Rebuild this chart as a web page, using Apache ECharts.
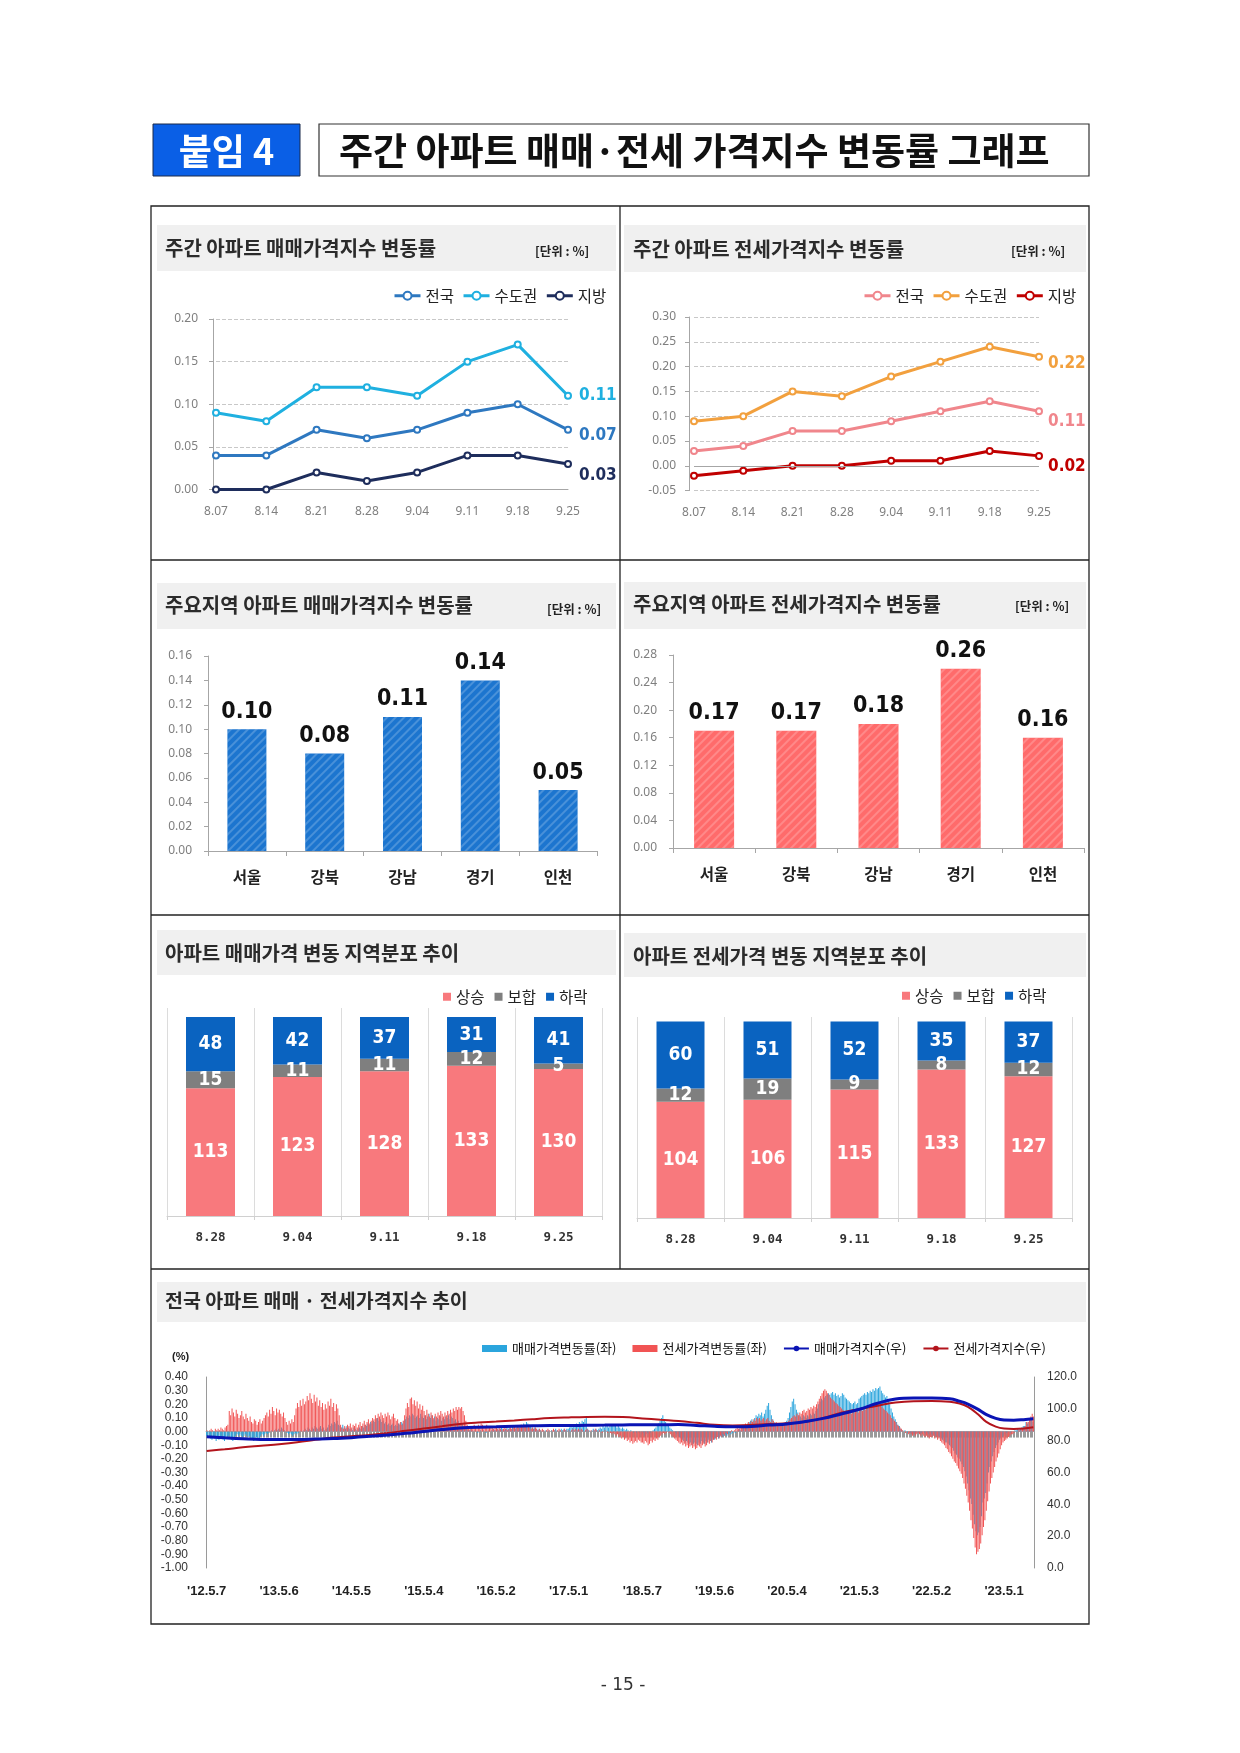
<!DOCTYPE html>
<html><head><meta charset="utf-8">
<script src="https://cdn.jsdelivr.net/npm/echarts@6/dist/echarts.min.js"></script>
<style>html,body{margin:0;padding:0;background:#fff}#c{width:1240px;height:1753px}</style>
</head><body><div id="c"></div><script>
// ---------------- DATA ----------------
const weeks8 = ['8.07','8.14','8.21','8.28','9.04','9.11','9.18','9.25'];
const saleNation  = [0.04,0.04,0.07,0.06,0.07,0.09,0.10,0.07];
const saleCapital = [0.09,0.08,0.12,0.12,0.11,0.15,0.17,0.11];
const saleLocal   = [0.00,0.00,0.02,0.01,0.02,0.04,0.04,0.03];
const jeonseNation  = [0.03,0.04,0.07,0.07,0.09,0.11,0.13,0.11];
const jeonseCapital = [0.09,0.10,0.15,0.14,0.18,0.21,0.24,0.22];
const jeonseLocal   = [-0.02,-0.01,0.00,0.00,0.01,0.01,0.03,0.02];

const regions = ['서울','강북','강남','경기','인천'];
const saleRegion   = [0.10,0.08,0.11,0.14,0.05];
const jeonseRegion = [0.17,0.17,0.18,0.26,0.16];

const distWeeks = ['8.28','9.04','9.11','9.18','9.25'];
const saleUp   = [113,123,128,133,130];
const saleFlat = [15,11,11,12,5];
const saleDown = [48,42,37,31,41];
const jeonseUp   = [104,106,115,133,127];
const jeonseFlat = [12,19,9,8,12];
const jeonseDown = [60,51,52,35,37];

// weekly national rates, '12.5.7 ~ '23.9.25
const saleRateWeekly = [
 // '12.5 - '13.4
 -0.03,-0.04,-0.03,-0.05,-0.06,-0.04,-0.05,-0.07,-0.05,-0.06,-0.04,-0.05,-0.06,-0.07,-0.05,-0.04,
 -0.03,-0.04,-0.06,-0.07,-0.05,-0.03,-0.02,-0.03,-0.02,-0.03,-0.04,-0.03,-0.02,-0.03,-0.04,-0.03,
 -0.05,-0.06,-0.07,-0.05,-0.04,-0.06,-0.05,-0.03,-0.02,-0.03,-0.02,-0.01,-0.02,-0.01,0.00,0.01,0.00,0.01,0.02,0.01,
 // '13.5 - '14.4
 0.02,0.01,0.03,0.02,0.01,0.00,-0.01,-0.02,-0.01,-0.02,-0.03,-0.02,
 -0.01,-0.02,-0.01,0.00,0.01,0.00,0.01,0.02,0.01,0.03,0.02,0.01,0.03,0.02,0.04,0.03,
 0.02,0.03,0.04,0.02,0.03,0.01,0.02,0.03,0.05,0.04,0.06,0.05,0.07,0.06,0.08,0.05,
 0.04,0.03,0.05,0.03,0.02,0.04,0.03,0.02,
 // '14.5 - '15.4
 0.02,0.01,0.03,0.02,0.01,0.02,0.03,0.02,0.04,0.03,0.05,0.04,0.06,0.05,0.07,0.06,
 0.08,0.07,0.09,0.10,0.08,0.09,0.07,0.08,0.06,0.07,0.05,0.06,0.04,0.05,0.06,0.04,
 0.05,0.04,0.06,0.05,0.07,0.06,0.08,0.09,0.11,0.10,0.12,0.11,0.13,0.12,0.10,0.11,0.12,0.10,0.13,0.11,
 // '15.5 - '16.4
 0.10,0.12,0.09,0.11,0.13,0.10,0.12,0.09,0.11,0.08,0.10,0.09,0.11,0.08,0.10,0.09,
 0.11,0.10,0.12,0.09,0.11,0.10,0.08,0.09,0.07,0.08,0.06,0.05,0.06,0.04,0.03,0.02,
 0.02,0.01,0.02,0.01,0.00,0.01,0.00,-0.01,0.00,0.01,0.00,0.01,0.00,-0.01,0.00,0.01,0.00,0.01,0.02,0.01,
 // '16.5 - '17.4
 0.01,0.02,0.01,0.02,0.03,0.02,0.01,0.02,0.03,0.02,0.03,0.02,0.04,0.03,0.02,0.03,
 0.04,0.03,0.05,0.04,0.06,0.05,0.07,0.06,0.05,0.04,0.03,0.02,0.03,0.02,0.01,0.02,
 0.01,0.00,0.01,0.00,0.01,0.00,0.01,0.00,0.01,0.00,0.01,0.02,0.01,0.00,0.01,0.02,0.01,0.02,0.01,0.02,
 // '17.5 - '18.4
 0.02,0.03,0.04,0.03,0.05,0.04,0.06,0.05,0.07,0.06,0.08,0.07,0.09,0.10,0.02,0.01,
 0.00,0.01,0.02,0.01,0.02,0.01,0.02,0.03,0.02,0.04,0.03,0.05,0.04,0.03,0.04,0.05,
 0.04,0.05,0.04,0.03,0.04,0.03,0.02,0.03,0.02,0.01,0.02,0.01,0.00,0.01,0.00,-0.01,0.00,-0.01,0.00,-0.01,0.00,
 // '18.5 - '19.4
 -0.02,-0.01,-0.03,-0.02,-0.01,-0.02,-0.01,0.00,0.01,0.02,0.03,0.04,0.06,0.08,0.10,0.12,
 0.09,0.07,0.05,0.04,0.03,0.02,0.01,0.00,-0.01,-0.02,-0.03,-0.04,-0.05,-0.06,-0.07,-0.08,
 -0.07,-0.08,-0.09,-0.08,-0.10,-0.09,-0.08,-0.09,-0.10,-0.08,-0.09,-0.07,-0.08,-0.09,-0.07,-0.08,-0.06,-0.07,-0.08,-0.06,
 // '19.5 - '20.4
 -0.06,-0.05,-0.04,-0.05,-0.04,-0.03,-0.04,-0.03,-0.02,-0.03,-0.02,-0.01,-0.02,-0.01,0.00,-0.01,
 0.00,0.01,0.02,0.01,0.03,0.04,0.05,0.04,0.06,0.07,0.08,0.09,0.08,0.10,0.12,0.11,
 0.13,0.12,0.14,0.11,0.13,0.16,0.19,0.21,0.16,0.12,0.09,0.07,0.06,0.05,0.04,0.05,0.04,0.06,0.05,0.07,
 // '20.5 - '21.4
 0.08,0.10,0.14,0.18,0.22,0.24,0.20,0.16,0.14,0.12,0.11,0.10,0.12,0.11,0.10,0.12,
 0.11,0.13,0.12,0.14,0.13,0.15,0.17,0.20,0.22,0.24,0.23,0.25,0.26,0.27,0.28,0.27,
 0.28,0.29,0.27,0.28,0.26,0.27,0.25,0.26,0.28,0.27,0.25,0.24,0.23,0.22,0.21,0.20,0.21,0.22,0.20,0.21,
 // '21.5 - '22.4
 0.24,0.25,0.26,0.27,0.28,0.27,0.29,0.28,0.30,0.29,0.31,0.30,0.32,0.31,0.32,0.33,
 0.30,0.28,0.27,0.25,0.26,0.22,0.20,0.17,0.14,0.11,0.09,0.07,0.05,0.04,0.02,0.01,
 0.00,0.01,0.00,-0.01,0.00,-0.01,-0.02,-0.01,-0.02,-0.01,0.00,-0.01,-0.02,-0.01,0.00,-0.01,-0.02,-0.01,-0.02,-0.03,
 // '22.5 - '23.4
 -0.02,-0.03,-0.02,-0.03,-0.04,-0.03,-0.04,-0.05,-0.06,-0.07,-0.08,-0.08,-0.09,-0.10,-0.11,-0.12,
 -0.14,-0.16,-0.17,-0.19,-0.20,-0.22,-0.24,-0.26,-0.29,-0.33,-0.38,-0.43,-0.49,-0.53,-0.61,-0.68,
 -0.73,-0.76,-0.74,-0.70,-0.62,-0.52,-0.49,-0.45,-0.38,-0.30,-0.26,-0.22,-0.18,-0.15,-0.12,-0.10,-0.08,-0.06,-0.05,-0.04,
 // '23.5 - '23.9
 -0.03,-0.02,-0.01,-0.01,0.00,-0.01,0.00,0.00,0.01,0.01,0.02,0.02,0.02,0.03,0.04,0.04,0.07,0.06,0.07,0.09,0.10,0.07
];
const jeonseRateWeekly = [
 0.01,0.00,0.01,0.02,0.01,0.00,0.02,0.01,0.02,0.01,0.03,0.02,0.01,0.03,0.04,0.05,
 0.15,0.12,0.17,0.14,0.11,0.16,0.13,0.10,0.12,0.15,0.11,0.09,0.13,0.10,0.08,0.11,
 0.07,0.06,0.09,0.08,0.05,0.07,0.09,0.06,0.08,0.10,0.12,0.14,0.11,0.16,0.13,0.18,0.15,0.12,0.17,0.14,
 0.16,0.13,0.11,0.14,0.10,0.07,0.05,0.08,0.06,0.09,0.07,0.12,
 0.17,0.21,0.18,0.23,0.19,0.24,0.20,0.22,0.26,0.23,0.28,0.24,0.21,0.27,0.22,0.25,
 0.19,0.23,0.18,0.21,0.16,0.20,0.17,0.22,0.19,0.24,0.18,0.21,0.15,0.20,0.17,0.12,
 0.05,0.03,0.02,0.04,0.03,0.05,0.04,0.06,
 0.03,0.05,0.04,0.06,0.03,0.05,0.07,0.04,0.06,0.08,0.05,0.07,0.09,0.06,0.08,0.10,
 0.09,0.12,0.10,0.13,0.11,0.14,0.12,0.10,0.13,0.11,0.14,0.12,0.09,0.11,0.13,0.10,
 0.08,0.09,0.06,0.07,0.05,0.08,0.12,0.17,0.21,0.18,0.24,0.25,0.20,0.23,0.19,0.22,0.17,0.20,0.16,0.19,
 0.15,0.12,0.16,0.13,0.11,0.14,0.12,0.10,0.13,0.11,0.14,0.12,0.15,0.13,0.11,0.14,
 0.12,0.15,0.13,0.16,0.14,0.17,0.15,0.18,0.16,0.18,0.17,0.18,0.15,0.12,0.08,0.05,
 0.03,0.02,0.04,0.03,0.05,0.04,0.03,0.05,0.04,0.06,0.05,0.04,0.03,0.05,0.04,0.03,0.04,0.03,0.02,0.03,
 0.03,0.02,0.03,0.02,0.01,0.02,0.03,0.02,0.01,0.02,0.03,0.02,0.03,0.04,0.03,0.04,
 0.03,0.04,0.05,0.04,0.05,0.04,0.03,0.04,0.03,0.02,0.03,0.02,0.03,0.02,0.01,0.02,
 0.01,0.02,0.01,0.00,0.01,0.02,0.01,0.00,0.01,0.02,0.01,0.00,0.01,0.02,0.01,0.00,0.01,0.02,0.01,0.00,
 0.01,0.00,0.01,0.02,0.01,0.02,0.01,0.02,0.01,0.02,0.01,0.00,0.01,0.02,0.01,0.00,
 0.01,0.00,0.01,0.02,0.01,0.00,0.01,0.00,-0.01,0.00,0.01,0.00,-0.01,0.00,-0.01,-0.02,
 -0.01,-0.02,-0.03,-0.02,-0.04,-0.03,-0.05,-0.04,-0.06,-0.05,-0.07,-0.06,-0.08,-0.07,-0.09,-0.08,-0.07,-0.08,-0.06,-0.07,-0.08,
 -0.08,-0.09,-0.07,-0.08,-0.10,-0.09,-0.07,-0.08,-0.06,-0.07,-0.05,-0.06,-0.04,-0.03,-0.02,-0.01,
 -0.02,-0.01,0.00,-0.01,-0.02,-0.03,-0.04,-0.05,-0.06,-0.07,-0.08,-0.09,-0.08,-0.10,-0.09,-0.11,
 -0.10,-0.12,-0.11,-0.10,-0.12,-0.11,-0.13,-0.12,-0.10,-0.11,-0.12,-0.10,-0.09,-0.11,-0.10,-0.08,-0.09,-0.07,-0.08,-0.06,
 -0.05,-0.06,-0.04,-0.05,-0.03,-0.04,-0.02,-0.03,-0.01,-0.02,0.00,-0.01,0.01,0.00,0.01,0.02,
 0.03,0.02,0.04,0.03,0.05,0.04,0.06,0.05,0.07,0.06,0.08,0.07,0.09,0.08,0.10,0.09,
 0.10,0.08,0.09,0.10,0.08,0.09,0.10,0.08,0.07,0.09,0.08,0.06,0.07,0.05,0.06,0.04,0.05,0.06,0.05,0.07,
 0.07,0.08,0.09,0.10,0.11,0.12,0.11,0.13,0.12,0.14,0.13,0.15,0.16,0.14,0.15,0.17,
 0.16,0.18,0.17,0.19,0.18,0.20,0.22,0.24,0.26,0.28,0.30,0.31,0.30,0.28,0.27,0.25,
 0.24,0.23,0.22,0.21,0.20,0.19,0.18,0.17,0.16,0.15,0.14,0.13,0.15,0.14,0.13,0.15,0.14,0.16,0.15,0.14,
 0.16,0.17,0.15,0.18,0.16,0.19,0.17,0.18,0.20,0.19,0.18,0.20,0.19,0.21,0.20,0.19,
 0.18,0.17,0.16,0.15,0.14,0.13,0.12,0.10,0.09,0.08,0.07,0.05,0.04,0.03,0.02,0.01,
 0.00,-0.01,0.00,-0.02,-0.01,-0.02,-0.03,-0.02,-0.03,-0.02,-0.01,-0.02,-0.03,-0.02,-0.03,-0.04,-0.03,-0.04,-0.05,-0.04,
 -0.04,-0.03,-0.05,-0.04,-0.06,-0.05,-0.07,-0.08,-0.09,-0.10,-0.12,-0.13,-0.15,-0.16,-0.18,-0.20,
 -0.22,-0.23,-0.25,-0.27,-0.29,-0.31,-0.34,-0.38,-0.42,-0.47,-0.52,-0.58,-0.65,-0.71,-0.78,-0.85,
 -0.90,-0.88,-0.86,-0.82,-0.76,-0.70,-0.65,-0.58,-0.51,-0.44,-0.38,-0.34,-0.30,-0.26,-0.22,-0.19,-0.16,-0.13,-0.10,-0.08,
 -0.07,-0.06,-0.05,-0.04,-0.03,-0.02,-0.02,-0.01,0.00,0.00,0.01,0.01,0.02,0.02,0.03,0.04,0.07,0.07,0.09,0.11,0.13,0.11
];
// index lines (right axis), read at these week positions
const idxWeeks   = [0,13,26,39,52,65,78,91,104,117,130,143,156,169,182,195,208,221,234,247,260,273,286,299,313,326,339,352,365,378,391,404,417,430,443,456,469,482,495,508,521,534,541,547,554,560,567,573,580,587,594];
const saleIndex  = [82.5,81.8,81.2,80.8,80.8,80.8,81.0,81.3,81.9,82.7,83.6,84.6,85.8,87.0,88.0,88.5,88.7,89.0,89.3,89.5,89.5,89.7,89.8,89.9,90.0,90.0,90.1,89.6,89.0,88.7,88.9,89.8,90.5,92.0,94.0,96.8,99.7,103.5,106.2,106.8,106.8,106.3,104.8,103.0,99.8,96.5,94.0,93.0,92.9,93.2,93.7];
const jeonseIndex= [73.5,74.6,75.8,76.8,77.8,79.0,80.5,82.0,82.8,83.6,84.8,86.2,87.6,89.0,90.5,91.4,92.0,92.7,93.5,94.2,94.6,94.9,95.0,94.8,94.0,93.1,92.3,91.2,90.0,89.6,89.8,90.5,90.9,91.8,94.2,97.6,99.8,102.0,104.0,104.8,104.9,104.4,103.3,101.2,96.8,92.0,88.8,87.6,87.4,87.7,88.5];
const tickWeeks  = [0,52,104,156,208,260,313,365,417,469,521,573];
const tickLabels = ["'12.5.7","'13.5.6","'14.5.5","'15.5.4","'16.5.2","'17.5.1","'18.5.7","'19.5.6","'20.5.4","'21.5.3","'22.5.2","'23.5.1"];

// ---------------- STYLE ----------------
const KR = '"Noto Sans CJK KR", sans-serif';
const NARROW = '"Liberation Sans Narrow","DejaVu Sans",sans-serif';
const NW = 'bold condensed';
const weekIdx = saleRateWeekly.map((_, i) => i);

const G = [];
function rect(x,y,w,h,fill,stroke,lw,z){G.push({type:'rect',silent:true,z:z||0,shape:{x,y,width:w,height:h},style:{fill:fill||'none',stroke:stroke||null,lineWidth:lw||0}});}
function line(x1,y1,x2,y2,stroke,lw){G.push({type:'line',silent:true,z:10,shape:{x1,y1,x2,y2},style:{stroke,lineWidth:lw}});}
function text(t,x,y,size,o){o=o||{};G.push({type:'text',silent:true,z:20,x,y,style:{text:t,fontSize:size,fontWeight:o.w||'normal',fontFamily:o.f||KR,fill:o.c||'#222',textAlign:o.a||'left',textVerticalAlign:'middle'}});}

// header
rect(153,124,147,52,'#0a5fe6','#1b2a4a',1,1);
text('붙임 4',226.5,151,36,{w:'bold',c:'#fff',a:'center'});
rect(319,124,770,52,'#fff','#333',1.2,1);
text('주간 아파트 매매·전세 가격지수 변동률 그래프',339,151,37,{w:'bold',c:'#111'});
// frame
rect(151,206,938,1418,'none','#222',1.3,10);
line(620,206,620,1269,'#222',1.3);
line(151,560,1089,560,'#222',1.3);
line(151,915,1089,915,'#222',1.3);
line(151,1269,1089,1269,'#222',1.3);
// bands
rect(157,225,459,46,'#f0f0f0'); rect(624,225,462,47,'#f0f0f0');
rect(157,583,459,46,'#f0f0f0'); rect(624,582,462,47,'#f0f0f0');
rect(157,930,459,45,'#f0f0f0'); rect(624,933,462,44,'#f0f0f0');
rect(157,1282,929,40,'#f0f0f0');
// panel titles
text('주간 아파트 매매가격지수 변동률',165,248,20,{w:'bold',c:'#2b2b2b'});
text('주간 아파트 전세가격지수 변동률',633,249,20,{w:'bold',c:'#2b2b2b'});
text('주요지역 아파트 매매가격지수 변동률',165,605,20,{w:'bold',c:'#2b2b2b'});
text('주요지역 아파트 전세가격지수 변동률',633,604,20,{w:'bold',c:'#2b2b2b'});
text('아파트 매매가격 변동 지역분포 추이',165,953,20,{w:'bold',c:'#2b2b2b'});
text('아파트 전세가격 변동 지역분포 추이',633,956,20,{w:'bold',c:'#2b2b2b'});
text('전국 아파트 매매 · 전세가격지수 추이',165,1301,19.5,{w:'bold',c:'#2b2b2b'});
text('[단위 : %]',535,251,12.5,{w:'bold'});
text('[단위 : %]',1011,251,12.5,{w:'bold'});
text('[단위 : %]',547,609,12.5,{w:'bold'});
text('[단위 : %]',1015,606,12.5,{w:'bold'});
text('(%)',172,1357,11,{w:'bold',f:'"Liberation Sans",sans-serif'});
text('- 15 -',623,1686,17,{c:'#333',f:'"DejaVu Sans",sans-serif',a:'center'});

function lineSeries(name, data, color, ai, off){
  return {type:'line',name,data,xAxisIndex:ai,yAxisIndex:ai,symbol:'emptyCircle',symbolSize:6,
    lineStyle:{color,width:3},itemStyle:{color,borderWidth:1.6},
    label:{show:true,position:'right',offset:off,color,fontFamily:NARROW,fontWeight:NW,fontSize:17,
      formatter:p=>p.dataIndex===data.length-1?Number(p.value).toFixed(2):''},
    emphasis:{disabled:true},z:3};
}
const grayLbl = {color:'#7f7f7f',fontSize:12,fontFamily:'"Noto Sans",sans-serif'};
const axGray = {lineStyle:{color:'#a6a6a6'}};

const hatch = c => ({color:c,decal:{symbol:'rect',symbolSize:1,color:'rgba(255,255,255,0.2)',dashArrayX:[1,0],dashArrayY:[2,4],rotation:-Math.PI/4}});

const stackLbl = {show:true,position:'inside',color:'#fff',fontFamily:NARROW,fontWeight:NW,fontSize:19};
const lineLegend = {itemWidth:26,itemHeight:10,itemGap:8,selectedMode:false,lineStyle:{width:3},
  itemStyle:{borderWidth:2},textStyle:{fontSize:15.5,color:'#222',fontFamily:KR}};

const option = {
  animation:false,
  graphic:G,
  grid:[
    {left:216,top:319,width:352,height:170.5,outerBoundsMode:'none'},
    {left:694,top:317,width:345,height:173.6,outerBoundsMode:'none'},
    {left:208,top:656,width:389,height:195,outerBoundsMode:'none'},
    {left:673,top:655,width:411,height:193,outerBoundsMode:'none'},
    {left:167,top:1008,width:435,height:208,outerBoundsMode:'none'},
    {left:637,top:1017,width:435,height:201,outerBoundsMode:'none'},
    {left:206,top:1377,width:828,height:191,outerBoundsMode:'none'}
  ],
  legend:[
    {...lineLegend,data:['전국','수도권','지방'],left:388,top:283},
    {...lineLegend,data:['전국(전세)','수도권(전세)','지방(전세)'],formatter:n=>n.replace('(전세)',''),left:858,top:283},
    {data:['상승','보합','하락'],left:438,top:984,icon:'rect',itemWidth:8,itemHeight:8,itemGap:10,selectedMode:false,
     textStyle:{fontSize:15.5,color:'#222',fontFamily:KR}},
    {data:['상승(전세)','보합(전세)','하락(전세)'],formatter:n=>n.replace('(전세)',''),left:897,top:983,icon:'rect',itemWidth:8,itemHeight:8,itemGap:10,selectedMode:false,
     textStyle:{fontSize:15.5,color:'#222',fontFamily:KR}},
    {data:[{name:'매매가격변동률(좌)',icon:'rect'},{name:'전세가격변동률(좌)',icon:'rect'},'매매가격지수(우)','전세가격지수(우)'],
     left:477,top:1337,itemWidth:25,itemHeight:7,itemGap:16,selectedMode:false,
     textStyle:{fontSize:13,color:'#111',fontFamily:KR}}
  ],
  xAxis:[
    {type:'category',gridIndex:0,data:weeks8,boundaryGap:false,axisLine:axGray,axisTick:{show:false},axisLabel:{...grayLbl,margin:16}},
    {type:'category',gridIndex:1,data:weeks8,boundaryGap:false,axisLine:{show:false,onZero:false},axisTick:{show:false},axisLabel:{...grayLbl,margin:16}},
    {type:'category',gridIndex:2,data:regions,axisLine:axGray,axisTick:{show:true,length:5,lineStyle:{color:'#a6a6a6'}},
     axisLabel:{color:'#222',fontSize:15.5,fontWeight:'bold',fontFamily:KR,margin:18}},
    {type:'category',gridIndex:3,data:regions,axisLine:axGray,axisTick:{show:true,length:5,lineStyle:{color:'#a6a6a6'}},
     axisLabel:{color:'#222',fontSize:15.5,fontWeight:'bold',fontFamily:KR,margin:18}},
    {type:'category',gridIndex:4,data:distWeeks,axisLine:{lineStyle:{color:'#d0d0d0'}},axisTick:{show:true,length:4,lineStyle:{color:'#d0d0d0'}},
     splitLine:{show:true,interval:0,lineStyle:{color:'#dcdcdc'}},
     axisLabel:{color:'#333',fontSize:12.5,fontWeight:'bold',fontFamily:'"DejaVu Sans Mono",monospace',margin:15}},
    {type:'category',gridIndex:5,data:distWeeks,axisLine:{lineStyle:{color:'#d0d0d0'}},axisTick:{show:true,length:4,lineStyle:{color:'#d0d0d0'}},
     splitLine:{show:true,interval:0,lineStyle:{color:'#dcdcdc'}},
     axisLabel:{color:'#333',fontSize:12.5,fontWeight:'bold',fontFamily:'"DejaVu Sans Mono",monospace',margin:15}},
    {type:'category',gridIndex:6,data:weekIdx,position:'bottom',axisLine:{show:false,onZero:false},axisTick:{show:false},
     axisLabel:{interval:(i)=>tickWeeks.indexOf(i)>=0,formatter:(v)=>{const k=tickWeeks.indexOf(Number(v));return k>=0?tickLabels[k]:'';},
       color:'#222',fontSize:13,fontWeight:'bold',fontFamily:'"Liberation Sans",Arial,sans-serif',margin:17}},
    {type:'category',gridIndex:6,data:weekIdx,position:'top',
     axisLine:{show:true,onZero:true,onZeroAxisIndex:6,lineStyle:{color:'#b8b8b8'}},
     axisTick:{show:true,interval:0,inside:true,length:6,lineStyle:{color:'#9a9a9a',width:1}},axisLabel:{show:false}}
  ],
  yAxis:[
    {type:'value',gridIndex:0,min:0,max:0.2,interval:0.05,offset:3,axisLine:{show:true,...axGray},axisTick:{show:true,length:4,lineStyle:{color:'#a6a6a6'}},
     axisLabel:{...grayLbl,margin:15,formatter:v=>v.toFixed(2)},splitLine:{lineStyle:{type:'dashed',color:'#c8c8c8'}}},
    {type:'value',gridIndex:1,min:-0.05,max:0.3,interval:0.05,offset:5,axisLine:{show:true,...axGray},axisTick:{show:true,length:4,lineStyle:{color:'#a6a6a6'}},
     axisLabel:{...grayLbl,margin:13,formatter:v=>v.toFixed(2)},splitLine:{lineStyle:{type:'dashed',color:'#c8c8c8'}}},
    {type:'value',gridIndex:2,min:0,max:0.16,interval:0.02,axisLine:{show:true,...axGray},axisTick:{show:true,length:4,lineStyle:{color:'#a6a6a6'}},
     axisLabel:{...grayLbl,margin:16,formatter:v=>v.toFixed(2)},splitLine:{show:false}},
    {type:'value',gridIndex:3,min:0,max:0.28,interval:0.04,axisLine:{show:true,...axGray},axisTick:{show:true,length:4,lineStyle:{color:'#a6a6a6'}},
     axisLabel:{...grayLbl,margin:16,formatter:v=>v.toFixed(2)},splitLine:{show:false}},
    {type:'value',gridIndex:4,min:0,max:184,show:false,splitLine:{show:false}},
    {type:'value',gridIndex:5,min:0,max:180,show:false,splitLine:{show:false}},
    {type:'value',gridIndex:6,min:-1,max:0.4,interval:0.1,position:'left',axisLine:{show:true,lineStyle:{color:'#9a9a9a'}},axisTick:{show:false},
     axisLabel:{color:'#333',fontSize:12,fontFamily:'"Liberation Sans",Arial,sans-serif',margin:18,formatter:v=>v.toFixed(2)},splitLine:{show:false}},
    {type:'value',gridIndex:6,min:0,max:120,interval:20,position:'right',axisLine:{show:true,lineStyle:{color:'#9a9a9a'}},axisTick:{show:false},
     axisLabel:{color:'#333',fontSize:12,fontFamily:'"Liberation Sans",Arial,sans-serif',margin:13,formatter:v=>v.toFixed(1)},splitLine:{show:false}}
  ],
  series:[
    lineSeries('전국',saleNation,'#2e78c0',0,[2,6]),
    lineSeries('수도권',saleCapital,'#1fb0e0',0,[2,0]),
    lineSeries('지방',saleLocal,'#1e2d5c',0,[2,12]),
    Object.assign(lineSeries('전국(전세)',jeonseNation,'#f0868c',1,[0,10]),{
      markLine:{silent:true,symbol:'none',label:{show:false},lineStyle:{color:'#a6a6a6',type:'solid',width:1},data:[{yAxis:0}]}}),
    lineSeries('수도권(전세)',jeonseCapital,'#f2a03e',1,[0,7]),
    lineSeries('지방(전세)',jeonseLocal,'#c00000',1,[0,11]),
    {type:'bar',xAxisIndex:2,yAxisIndex:2,data:saleRegion,barWidth:39,itemStyle:hatch('#1c75cf'),
     label:{show:true,position:'top',distance:6,color:'#111',fontFamily:NARROW,fontWeight:NW,fontSize:23,formatter:p=>p.value.toFixed(2)}},
    {type:'bar',xAxisIndex:3,yAxisIndex:3,data:jeonseRegion,barWidth:40,itemStyle:hatch('#ff6b6b'),
     label:{show:true,position:'top',distance:6,color:'#111',fontFamily:NARROW,fontWeight:NW,fontSize:23,formatter:p=>p.value.toFixed(2)}},
    {type:'bar',name:'상승',stack:'s5',xAxisIndex:4,yAxisIndex:4,data:saleUp,barWidth:49,itemStyle:{color:'#f8797d'},label:stackLbl},
    {type:'bar',name:'보합',stack:'s5',xAxisIndex:4,yAxisIndex:4,data:saleFlat,barWidth:49,itemStyle:{color:'#7f7f7f'},label:stackLbl},
    {type:'bar',name:'하락',stack:'s5',xAxisIndex:4,yAxisIndex:4,data:saleDown,barWidth:49,itemStyle:{color:'#0a63c0'},label:stackLbl},
    {type:'bar',name:'상승(전세)',stack:'s6',xAxisIndex:5,yAxisIndex:5,data:jeonseUp,barWidth:48,itemStyle:{color:'#f8797d'},label:stackLbl},
    {type:'bar',name:'보합(전세)',stack:'s6',xAxisIndex:5,yAxisIndex:5,data:jeonseFlat,barWidth:48,itemStyle:{color:'#7f7f7f'},label:stackLbl},
    {type:'bar',name:'하락(전세)',stack:'s6',xAxisIndex:5,yAxisIndex:5,data:jeonseDown,barWidth:48,itemStyle:{color:'#0a63c0'},label:stackLbl},
    {type:'bar',name:'매매가격변동률(좌)',xAxisIndex:6,yAxisIndex:6,data:saleRateWeekly,barWidth:1,barGap:'-40%',itemStyle:{color:'#2ba5dd'}},
    {type:'bar',name:'전세가격변동률(좌)',xAxisIndex:6,yAxisIndex:6,data:jeonseRateWeekly,barWidth:1,barGap:'-40%',itemStyle:{color:'#f15454'}},
    {type:'line',name:'전세가격지수(우)',xAxisIndex:6,yAxisIndex:7,data:idxWeeks.map((w,i)=>[w,jeonseIndex[i]]),symbol:'none',smooth:0.4,
     lineStyle:{color:'#b3141c',width:2},itemStyle:{color:'#b3141c'},z:4},
    {type:'line',name:'매매가격지수(우)',xAxisIndex:6,yAxisIndex:7,data:idxWeeks.map((w,i)=>[w,saleIndex[i]]),symbol:'none',smooth:0.4,
     lineStyle:{color:'#0a14b4',width:3},itemStyle:{color:'#0a14b4'},z:5}
  ]
};
const chart = echarts.init(document.getElementById('c'), null, {renderer:'canvas',width:1240,height:1753});
chart.setOption(option);
</script></body></html>
